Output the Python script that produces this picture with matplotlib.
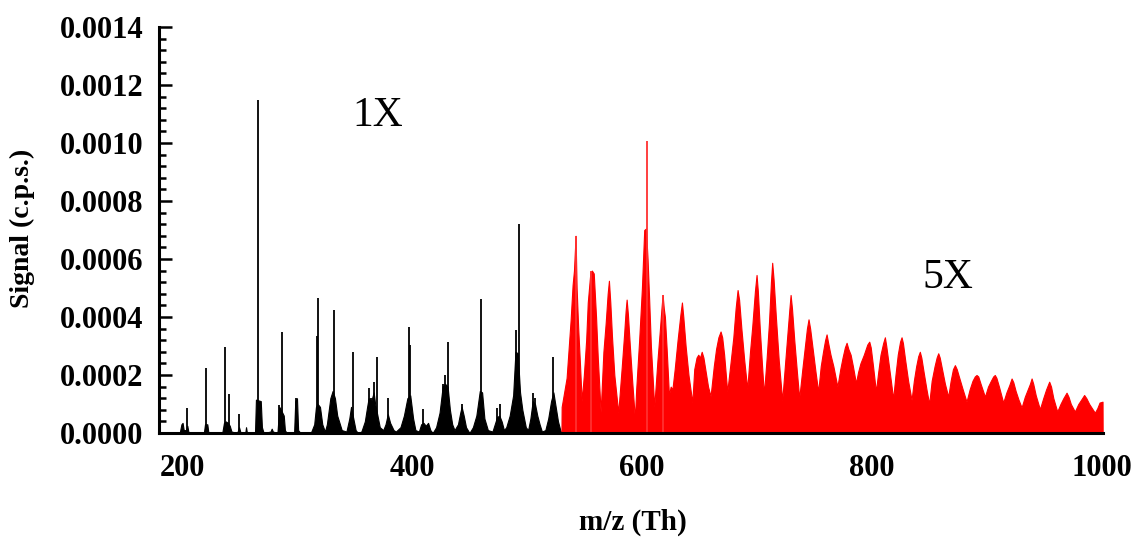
import matplotlib
matplotlib.use("Agg")
import matplotlib.pyplot as plt
from matplotlib.ticker import MultipleLocator, FormatStrFormatter
import numpy as np

plt.rcParams['font.family'] = ['Liberation Serif', 'DejaVu Serif']

# ---- data (signal in units of 1e-4 c.p.s.) ----
# 1X region: cluster envelopes
black_env_mz = [180, 198, 199.5, 200.5, 201.5, 203.5, 204.6, 205.5, 207,
                219, 220, 222, 223, 235, 236.5, 238, 240, 241.5, 243,
                248, 249.6, 251, 255, 255.7, 256.5,
                263.5, 264.3, 268.5, 269.5, 271, 277, 278, 279,
                283, 284.6, 286, 288.5, 289.5, 291, 297.5, 298.5, 300, 301, 303,
                312, 315, 316.5, 318, 320, 322, 324.3, 326, 329, 331, 333, 335, 338.9,
                343, 345.5, 347, 349, 351, 353, 356, 359, 361, 362.3, 364.6, 366.7, 368, 370,
                372, 375, 377, 379, 381, 384, 386, 390, 393, 396, 398.5, 401, 403, 406,
                408, 410, 412, 414, 416, 418, 421, 424, 426.7, 428.7, 431, 433, 435, 437,
                440, 442, 443.2, 445, 447, 450, 453, 456, 459, 461, 463, 466, 470,
                472, 474, 476, 478, 480, 482, 485, 488, 490, 492, 494, 496, 499, 501,
                503, 505, 507, 509, 511, 513, 516, 518.5, 521, 523, 525, 527, 529, 530]
black_env_val = [0, 0, 0.3, 0.35, 0.1, 0.1, 0.25, 0.05, 0,
                 0, 0.3, 0.3, 0, 0, 0.35, 0.4, 0.35, 0.25, 0.05,
                 0, 0.2, 0, 0, 0.2, 0,
                 0, 1.15, 1.1, 0.2, 0, 0.05, 0.15, 0.05,
                 0, 0.9, 0.8, 0.6, 0.1, 0, 0, 1.1, 1.2, 0.1, 0,
                 0, 0.3, 0.9, 1.0, 0.9, 0.3, 0.05, 0.3, 1.2, 1.45, 1.2, 0.6, 0.1,
                 0.05, 0.5, 0.9, 0.5, 0.1, 0, 0.05, 0.4, 0.9, 1.2, 1.1, 1.4, 1.0, 0.6,
                 0.2, 0.1, 0.3, 0.65, 0.35, 0.1, 0.05, 0.2, 0.6, 1.2, 1.3, 0.5, 0.1, 0.05,
                 0.3, 0.35, 0.25, 0.35, 0.1, 0, 0.2, 0.7, 1.6, 1.7, 1.6, 0.8, 0.3, 0.1,
                 0.3, 0.7, 0.9, 0.6, 0.2, 0, 0.2, 0.6, 1.45, 1.4, 0.5, 0.1, 0.05,
                 0.3, 0.55, 0.6, 0.4, 0.1, 0.2, 0.6, 1.3, 2.8, 2.75, 1.4, 0.8, 0.2, 0.1,
                 0.5, 1.1, 1.0, 0.6, 0.3, 0.05, 0.1, 0.5, 1.1, 1.4, 0.9, 0.4, 0.1, 0]

# 1X region: sharp single peaks
black_peak_mz = [204.6, 220.6, 237.1, 240.6, 249.6, 266.4, 284.6, 287.0, 299.4,
                 317.0, 318.5, 331.9, 348.7, 362.3, 364.6, 366.7, 369.3, 379.0,
                 397.4, 398.3, 409.3, 426.7, 428.7, 431.0, 443.2, 460.0, 474.0,
                 477.0, 490.4, 492.7, 505.5, 507.0, 522.9]
black_peak_val = [0.87, 2.23, 2.98, 1.33, 0.66, 11.5, 0.97, 3.47, 1.2,
                  3.34, 4.64, 4.24, 2.8, 1.54, 1.2, 1.77, 2.63, 1.2,
                  3.64, 3.05, 0.82, 1.7, 2.0, 3.15, 1.0, 4.62, 0.85,
                  1.0, 3.55, 7.2, 1.37, 1.2, 2.63]

# 5X region (displayed x5): cluster envelopes
red_env_mz = [530, 530.2, 534.5, 538, 539.7, 540.9, 542.3, 543.2, 544.6, 546.1, 547.6,
              549.5, 551.5, 552.9, 555.2, 556.5, 558.1, 560.1, 561.6, 564.1,
              566.5, 568.5, 570.2, 571.3, 572.5, 574.0, 576, 579.4,
              582.5, 584.5, 585.8, 586.7, 587.8, 589.5, 591.5, 593.9,
              595, 597.6, 600, 602, 603.5, 604.9, 606.3, 607.8, 610.7,
              613.5, 615.5, 617, 618, 619, 620, 621.5, 623.5, 625, 626.5,
              628.5, 631, 633.5, 634.8, 636, 638, 640.5, 643.8,
              645.5, 647.5, 649, 650.5, 652, 653.5, 655.5, 657.5, 659.7,
              662.5, 664.5, 666.5, 668.4, 669.8, 671.5, 674.2,
              677, 679.5, 681.5, 683.2, 684.5, 686.5, 689, 691.6,
              694, 696, 698.3, 699.7, 700.8, 702.5, 704.5, 706.1,
              708.5, 710.5, 712.2, 713.3, 714.5, 716.5, 719, 722,
              724.5, 726.5, 728.3, 729.3, 730.5, 732.5, 734.8, 736.8,
              739.5, 741.5, 743.5, 744.9, 746.3, 748.5, 751, 753.3,
              755.5, 757.5, 759.3, 760.6, 762, 764, 766.5, 770,
              772.5, 774.5, 776.5, 778, 779.5, 781.5, 783.5, 786.1,
              788, 790, 793, 796, 797.7, 799, 801, 803.5,
              805.5, 807.5, 809.8, 811.3, 812.5, 814.5, 816.5, 818.5,
              820.5, 822.5, 824.5, 825.8, 827, 829, 831.5, 834.5,
              836.5, 838.5, 840.3, 841.7, 843, 845, 847.5, 849.8,
              852, 854.5, 856.3, 857.7, 859, 861, 863.5, 866.4,
              868.5, 870.5, 872.2, 873.8, 876, 879, 882.3,
              885, 887.5, 889.5, 891, 892.5, 894.5, 898.3,
              901, 903.5, 905.5, 906.9, 908.3, 910.5, 914.2,
              917, 919.5, 921.5, 923, 925, 927.5, 930.2,
              933, 935.5, 937.5, 938.9, 940.3, 942.5, 946.1,
              949, 951.5, 954.2, 955.8, 957.8, 961.2,
              964, 966.5, 969.3, 971, 973, 976.5,
              979.5, 982, 984.6, 986.5, 989, 993.9,
              996, 998, 1000.6, 1000.7]
red_env_val = [0, 0.9, 1.9, 3.9, 5.1, 5.6, 6.8, 5.0, 3.6, 2.4, 1.1,
               2.0, 3.2, 4.5, 5.55, 5.6, 5.5, 4.0, 2.6, 0.72,
               2.8, 3.8, 4.8, 5.25, 4.5, 3.3, 2.0, 0.7,
               2.3, 3.4, 4.2, 4.6, 4.1, 3.0, 1.8, 0.48,
               1.5, 3.2, 5.0, 7.0, 7.05, 6.0, 4.6, 3.0, 0.9,
               2.5, 3.5, 4.3, 4.76, 4.3, 4.0, 2.9, 1.3, 1.6, 1.5,
               2.2, 3.2, 4.1, 4.5, 4.0, 3.0, 2.0, 1.05,
               2.2, 2.6, 2.7, 2.6, 2.8, 2.6, 2.1, 1.6, 1.27,
               2.3, 2.9, 3.3, 3.5, 3.3, 2.7, 1.42,
               2.4, 3.3, 4.3, 4.93, 4.6, 3.6, 2.5, 1.52,
               2.8, 3.7, 4.9, 5.45, 4.9, 3.6, 2.3, 1.33,
               2.6, 3.8, 5.2, 5.87, 5.3, 4.0, 2.5, 1.12,
               2.4, 3.4, 4.3, 4.76, 4.3, 3.2, 2.1, 1.2,
               2.2, 2.9, 3.6, 3.92, 3.6, 2.9, 2.1, 1.42,
               2.3, 2.8, 3.2, 3.4, 3.1, 2.7, 2.3, 1.6,
               2.2, 2.6, 2.95, 3.11, 2.9, 2.7, 2.3, 1.72,
               2.1, 2.4, 2.7, 3.05, 3.15, 2.95, 2.3, 1.43,
               2.1, 2.7, 3.1, 3.3, 3.0, 2.4, 1.8, 1.17,
               2.0, 2.7, 3.15, 3.3, 3.1, 2.5, 1.8, 1.14,
               1.8, 2.3, 2.65, 2.8, 2.6, 2.1, 1.5, 1.0,
               1.8, 2.3, 2.6, 2.75, 2.6, 2.2, 1.7, 1.25,
               1.8, 2.2, 2.34, 2.2, 1.9, 1.5, 1.08,
               1.5, 1.8, 1.95, 2.0, 1.95, 1.7, 1.25,
               1.6, 1.8, 1.95, 2.0, 1.9, 1.6, 1.05,
               1.4, 1.65, 1.88, 1.75, 1.45, 1.15, 0.88,
               1.25, 1.5, 1.7, 1.88, 1.7, 1.3, 0.82,
               1.2, 1.5, 1.77, 1.6, 1.2, 0.74,
               1.0, 1.2, 1.39, 1.25, 1.0, 0.74,
               1.0, 1.15, 1.31, 1.2, 1.0, 0.7,
               0.85, 1.05, 1.08, 0]

# 5X region sharp peaks
red_peak_mz = [542.3, 555.9, 604.1, 618.0]
red_peak_val = [6.8, 5.6, 10.08, 4.76]

unit = 1e-4
y_ticks = [0.0, 0.0002, 0.0004, 0.0006, 0.0008, 0.0010, 0.0012, 0.0014]
x_ticks = [200, 400, 600, 800, 1000]

fig = plt.figure(figsize=(11.36, 5.40), dpi=100)
ax = fig.add_axes([159/1136, 107/540, 944/1136, 406/540])

bx = np.array(black_env_mz)
by = np.array(black_env_val) * unit
ax.fill_between(bx, 0, by, color='black', lw=0.8, edgecolor='black')
ax.vlines(black_peak_mz, 0, np.array(black_peak_val) * unit, color='black', lw=1.3)

rx = np.array(red_env_mz)
ry = np.array(red_env_val) * unit
ax.fill_between(rx, 0, ry, color='#ff0000', lw=0.8, edgecolor='#ff0000')
ax.vlines(red_peak_mz, 0, np.array(red_peak_val) * unit, color='#ff3030', lw=1.3)

ax.set_xlim(180, 1001)
ax.set_ylim(0, 0.0014)
ax.set_xticks(x_ticks)
ax.set_yticks(y_ticks)
ax.yaxis.set_minor_locator(MultipleLocator(0.00004))
ax.yaxis.set_major_formatter(FormatStrFormatter('%.4f'))

for s in ['top', 'right']:
    ax.spines[s].set_visible(False)
for s in ['left', 'bottom']:
    ax.spines[s].set_linewidth(2.2)

ax.tick_params(axis='y', which='major', direction='in', length=9, width=1.8, pad=11)
ax.tick_params(axis='y', which='minor', direction='in', length=5, width=1.8)
ax.tick_params(axis='x', which='both', length=0, pad=15)
for lab in ax.get_xticklabels() + ax.get_yticklabels():
    lab.set_fontsize(22)
    lab.set_fontweight('bold')

fig.text(22/1136, 1 - 228/540, 'Signal (c.p.s.)', rotation=90, ha='center', va='center',
         fontsize=20, fontweight='bold')
fig.text(633/1136, 1 - 522/540, 'm/z (Th)', ha='center', va='center',
         fontsize=21, fontweight='bold')

ax.text(370, 0.001094, '1X', ha='center', va='center', fontsize=30)
ax.text(866, 0.000534, '5X', ha='center', va='center', fontsize=30)

fig.savefig('out.png', dpi=100)
